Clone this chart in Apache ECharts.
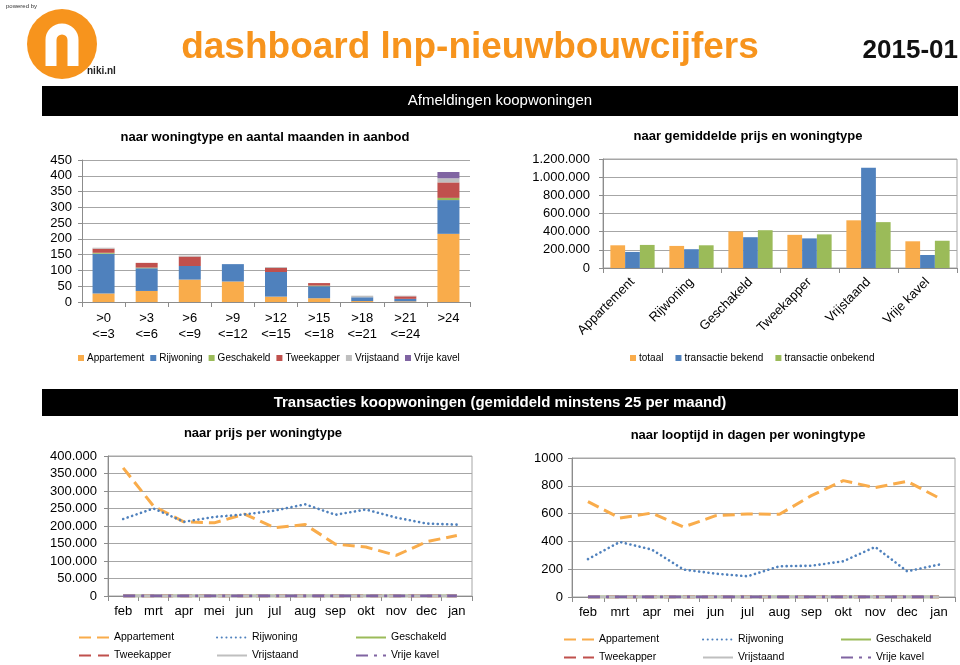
<!DOCTYPE html>
<html>
<head>
<meta charset="utf-8">
<script src="https://cdn.jsdelivr.net/npm/echarts@6/dist/echarts.min.js"></script>
<style>
html,body{margin:0;padding:0;background:#fff;}
#c{width:960px;height:665px;}
</style>
</head>
<body>
<div id="c"></div>
<script>
// ---------- DATA ----------
const aanbodCats = ['>0\n<=3','>3\n<=6','>6\n<=9','>9\n<=12','>12\n<=15','>15\n<=18','>18\n<=21','>21\n<=24','>24'];
const aanbodApp = [27, 35, 71, 65, 17, 12, 3, 2, 216];
const aanbodRij = [126, 72, 43, 55, 78, 38, 12, 8, 107];
const aanbodGes = [3, 2, 0, 0, 0, 2, 0, 0, 7];
const aanbodTwe = [13, 15, 30, 0, 13, 8, 0, 8, 49];
const aanbodVrs = [3, 0, 3, 0, 3, 0, 5, 2, 13];
const aanbodVrk = [0, 0, 0, 0, 0, 0, 0, 0, 20];

const woningtypes = ['Appartement','Rijwoning','Geschakeld','Tweekapper','Vrijstaand','Vrije kavel'];
const prijsTotaal = [250000, 243000, 403000, 365000, 525000, 294000];
const prijsBekend = [177000, 207000, 339000, 326000, 1104000, 143000];
const prijsOnbekend = [254000, 250000, 416000, 370000, 505000, 300000];

const maanden = ['feb','mrt','apr','mei','jun','jul','aug','sep','okt','nov','dec','jan'];
const prijsApp = [366000, 257000, 212000, 209000, 234000, 195000, 204000, 148000, 140000, 116000, 155000, 173000];
const prijsRij = [220000, 250000, 212000, 226000, 233000, 244000, 262000, 232000, 247000, 224000, 207000, 204000];
const prijsGes = [0,0,0,0,0,0,0,0,0,0,0,0];
const prijsTwe = [0,0,0,0,0,0,0,0,0,0,0,0];
const prijsVrs = [0,0,0,0,0,0,0,0,0,0,0,0];
const prijsVrk = [0,0,0,0,0,0,0,0,0,0,0,0];

const dagenApp = [686, 568, 604, 504, 585, 597, 595, 729, 837, 787, 832, 712];
const dagenRij = [273, 396, 341, 197, 168, 149, 221, 225, 257, 360, 185, 233];
const dagenGes = [0,0,0,0,0,0,0,0,0,0,0,0];
const dagenTwe = [0,0,0,0,0,0,0,0,0,0,0,0];
const dagenVrs = [0,0,0,0,0,0,0,0,0,0,0,0];
const dagenVrk = [0,0,0,0,0,0,0,0,0,0,0,0];

// ---------- STYLE ----------
const FONT = '"Liberation Sans", Arial, sans-serif';
const C = {
  app: '#F9AC4B', rij: '#4F81BD', ges: '#9BBB59', twe: '#C0504D', vrs: '#BFBFBF', vrk: '#8064A2'
};
const gridColor = '#A6A6A6';
const axisColor = '#8C8C8C';

function dots(v){
  const s = String(Math.round(v));
  return s.replace(/\B(?=(\d{3})+(?!\d))/g, '.');
}

const chart = echarts.init(document.getElementById('c'), null, {renderer:'canvas'});

function yAxisBase(gi, max, interval, fmt, margin){
  return {
    type:'value', gridIndex:gi, min:0, max:max, interval:interval,
    axisLine:{show:true, lineStyle:{color:axisColor}},
    axisTick:{show:true, length:4, lineStyle:{color:axisColor}},
    splitLine:{show:true, lineStyle:{color:gridColor, width:1}},
    axisLabel:{color:'#000', fontSize:13, fontFamily:FONT, margin:margin, formatter:fmt}
  };
}
function xAxisBase(gi, data, extra){
  return Object.assign({
    type:'category', gridIndex:gi, data:data, boundaryGap:true,
    axisLine:{show:true, lineStyle:{color:axisColor}},
    axisTick:{show:true, length:5, lineStyle:{color:axisColor}},
    splitLine:{show:false},
    axisLabel:{color:'#000', fontSize:13, fontFamily:FONT, interval:0, margin:8, lineHeight:16}
  }, extra||{});
}

const lineDefs = [
  {key:'Appartement', color:C.app, width:3, type:[12,6], cap:'butt'},
  {key:'Rijwoning', color:C.rij, width:2.6, type:[0.1,4.6], cap:'round'},
  {key:'Geschakeld', color:C.ges, width:3, type:'solid', cap:'butt'},
  {key:'Tweekapper', color:C.twe, width:3, type:[12,7], cap:'butt'},
  {key:'Vrijstaand', color:C.vrs, width:3, type:'solid', cap:'butt'},
  {key:'Vrije kavel', color:C.vrk, width:3, type:[12,6,3,6], cap:'butt'}
];
const prijsSets = [prijsApp, prijsRij, prijsGes, prijsTwe, prijsVrs, prijsVrk];
const dagenSets = [dagenApp, dagenRij, dagenGes, dagenTwe, dagenVrs, dagenVrk];

const series = [];
// chart 1 stacked
const stackSets = [aanbodApp, aanbodRij, aanbodGes, aanbodTwe, aanbodVrs, aanbodVrk];
const stackColors = [C.app, C.rij, C.ges, C.twe, C.vrs, C.vrk];
woningtypes.forEach((n,i)=>{
  series.push({type:'bar', name:n, xAxisIndex:0, yAxisIndex:0, stack:'aanbod', data:stackSets[i],
    barWidth:22, itemStyle:{color:stackColors[i]}});
});
// chart 2 grouped
[['totaal', prijsTotaal, C.app], ['transactie bekend', prijsBekend, C.rij], ['transactie onbekend', prijsOnbekend, C.ges]].forEach(d=>{
  series.push({type:'bar', name:d[0], xAxisIndex:1, yAxisIndex:1, data:d[1], barGap:'0%', barCategoryGap:'25%',
    itemStyle:{color:d[2]}});
});
// chart 3 & 4 lines
lineDefs.forEach((d,i)=>{
  series.push({type:'line', name:d.key+'#p', xAxisIndex:2, yAxisIndex:2, data:prijsSets[i], symbol:'none',
    lineStyle:{color:d.color, width:d.width, type:d.type, cap:d.cap}, itemStyle:{color:d.color}, z:2+i});
});
lineDefs.forEach((d,i)=>{
  series.push({type:'line', name:d.key+'#d', xAxisIndex:3, yAxisIndex:3, data:dagenSets[i], symbol:'none',
    lineStyle:{color:d.color, width:d.width, type:d.type, cap:d.cap}, itemStyle:{color:d.color}, z:2+i});
});

const legends = [
  {data:woningtypes, left:78, top:353, padding:0, itemWidth:6, itemHeight:6, itemGap:6, icon:'rect',
   textStyle:{fontSize:10, color:'#000', fontFamily:FONT, padding:[0,0,0,-2]}},
  {data:['totaal','transactie bekend','transactie onbekend'], left:630, top:353, padding:0, itemWidth:6, itemHeight:6, itemGap:12, icon:'rect',
   textStyle:{fontSize:10, color:'#000', fontFamily:FONT, padding:[0,0,0,-2]}}
];
const colL3 = [78, 216, 355], colL4 = [563, 702, 840];
const rowL3 = [637, 655], rowL4 = [639, 657];
lineDefs.forEach((d,i)=>{
  const col = i % 3, row = Math.floor(i/3);
  const common = {padding:0, itemWidth:30, itemHeight:10, itemStyle:{opacity:0},
    formatter:n=>n.split('#')[0], textStyle:{fontSize:10.5, color:'#000', fontFamily:FONT}};
  legends.push(Object.assign({data:[d.key+'#p'], left:colL3[col], top:rowL3[row]-5}, common));
  legends.push(Object.assign({data:[d.key+'#d'], left:colL4[col], top:rowL4[row]-5}, common));
});

function txt(x,y,text,font,fill,align){
  return {type:'text', x:x, y:y, silent:true, style:{text:text, font:font, fill:fill||'#000',
    textAlign:align||'center', textVerticalAlign:'middle'}};
}

const graphics = [
  // logo
  txt(6, 6, 'powered by', '6px '+FONT, '#333', 'left'),
  {type:'circle', shape:{cx:62, cy:44, r:35}, style:{fill:'#F7941D'}, silent:true},
  {type:'arc', shape:{cx:62, cy:40, r:11, startAngle:Math.PI, endAngle:Math.PI*2, clockwise:true}, style:{fill:null, stroke:'#fff', lineWidth:11}, silent:true},
  {type:'line', shape:{x1:51, y1:40, x2:51, y2:66}, style:{stroke:'#fff', lineWidth:11}, silent:true},
  {type:'line', shape:{x1:73, y1:40, x2:73, y2:66}, style:{stroke:'#fff', lineWidth:11}, silent:true},
  txt(87, 71, 'niki.nl', 'bold 10px '+FONT, '#222', 'left'),
  // header
  txt(470, 48, 'dashboard lnp-nieuwbouwcijfers', 'bold 37px '+FONT, '#F7941D', 'center'),
  txt(958, 51, '2015-01', 'bold 26px '+FONT, '#111', 'right'),
  {type:'rect', shape:{x:42, y:86, width:916, height:30}, style:{fill:'#000'}, silent:true},
  txt(500, 101, 'Afmeldingen koopwoningen', '15px '+FONT, '#fff', 'center'),
  {type:'rect', shape:{x:42, y:389, width:916, height:27}, style:{fill:'#000'}, silent:true},
  txt(500, 403, 'Transacties koopwoningen (gemiddeld minstens 25 per maand)', 'bold 15px '+FONT, '#fff', 'center'),
  // chart titles
  txt(265, 137, 'naar woningtype en aantal maanden in aanbod', 'bold 13px '+FONT, '#000', 'center'),
  txt(748, 136, 'naar gemiddelde prijs en woningtype', 'bold 13px '+FONT, '#000', 'center'),
  txt(263, 433, 'naar prijs per woningtype', 'bold 13px '+FONT, '#000', 'center'),
  txt(748, 435, 'naar looptijd in dagen per woningtype', 'bold 13px '+FONT, '#000', 'center')
];

chart.setOption({
  animation:false,
  textStyle:{fontFamily:FONT},
  grid:[
    {left:82, top:160, width:388, height:142, containLabel:false},
    {left:603, top:159, width:354, height:109, containLabel:false, show:true, borderColor:gridColor, borderWidth:1},
    {left:108, top:456, width:364, height:140, containLabel:false, show:true, borderColor:gridColor, borderWidth:1},
    {left:572, top:458, width:383, height:139, containLabel:false, show:true, borderColor:gridColor, borderWidth:1}
  ],
  xAxis:[
    xAxisBase(0, aanbodCats),
    xAxisBase(1, woningtypes, {axisLabel:{color:'#000', fontSize:13, fontFamily:FONT, interval:0, rotate:45, margin:12}}),
    xAxisBase(2, maanden, {axisLabel:{color:'#000', fontSize:13, fontFamily:FONT, interval:0, margin:9}}),
    xAxisBase(3, maanden, {axisLabel:{color:'#000', fontSize:13, fontFamily:FONT, interval:0, margin:9}})
  ],
  yAxis:[
    yAxisBase(0, 450, 50, v=>String(v), 10),
    yAxisBase(1, 1200000, 200000, dots, 13),
    yAxisBase(2, 400000, 50000, dots, 11),
    yAxisBase(3, 1000, 200, v=>String(v), 9)
  ],
  legend:legends,
  series:series,
  graphic:graphics
});
</script>
</body>
</html>
